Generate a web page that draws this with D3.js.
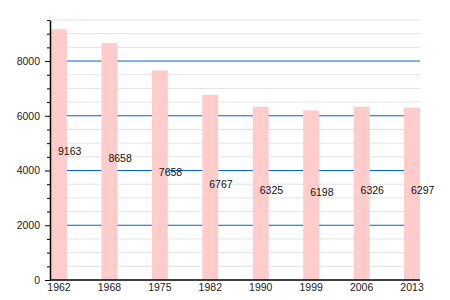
<!DOCTYPE html>
<html>
<head>
<meta charset="utf-8">
<script src="https://cdn.jsdelivr.net/npm/d3@7"></script>
<style>
  body { margin: 0; background: #fff; }
  text { font-family: "Liberation Sans", Arial, sans-serif; }
</style>
</head>
<body>
<div id="chart"></div>
<script>
// data
const years = ["1962", "1968", "1975", "1982", "1990", "1999", "2006", "2013"];
const population = [9163, 8658, 7658, 6767, 6325, 6198, 6326, 6297];
const majorTicks = [0, 2000, 4000, 6000, 8000];

const width = 450, height = 300;
const margin = {top: 20, right: 30, bottom: 20, left: 50};
const fontSize = "10.5px";

const svg = d3.select("#chart")
  .append("svg")
  .attr("width", width)
  .attr("height", height);

const x = d3.scaleBand()
  .domain(years)
  .range([margin.left + 1, width - margin.right])
  .paddingInner(0.684)
  .paddingOuter(0);

const y = d3.scaleLinear()
  .domain([0, 9500])
  .range([height - margin.bottom, margin.top]);

// minor grid every 500
const minor = d3.range(500, 9501, 500).filter(v => v % 2000 !== 0);
svg.append("g")
  .selectAll("line")
  .data(minor)
  .enter()
  .append("line")
  .attr("x1", margin.left)
  .attr("x2", width - margin.right)
  .attr("y1", d => y(d))
  .attr("y2", d => y(d))
  .attr("stroke", "#e3e3e3")
  .attr("stroke-width", 1);

// major grid every 2000
svg.append("g")
  .selectAll("line")
  .data(majorTicks.filter(d => d > 0))
  .enter()
  .append("line")
  .attr("x1", margin.left)
  .attr("x2", width - margin.right)
  .attr("y1", d => y(d))
  .attr("y2", d => y(d))
  .attr("stroke", "#0066cc")
  .attr("stroke-width", 1);

// bars
svg.append("g")
  .selectAll("rect")
  .data(population)
  .enter()
  .append("rect")
  .attr("x", (d, i) => x(years[i]))
  .attr("y", d => y(d))
  .attr("width", x.bandwidth())
  .attr("height", d => y(0) - y(d))
  .attr("fill", "#ffcccc");

// value labels halfway up the bar
svg.append("g")
  .selectAll("text")
  .data(population)
  .enter()
  .append("text")
  .attr("x", (d, i) => x(years[i]) + x.bandwidth() / 2 - 1)
  .attr("y", d => (y(d) + y(0)) / 2 + 0.5)
  .attr("font-size", fontSize)
  .attr("fill", "#111")
  .text(d => d);

// y axis, minor ticks
svg.append("g")
  .attr("transform", `translate(${margin.left},0)`)
  .call(d3.axisLeft(y).tickValues(minor).tickSize(3).tickFormat(""))
  .call(g => g.select(".domain").remove());

// y axis, major ticks
svg.append("g")
  .attr("transform", `translate(${margin.left},0)`)
  .call(d3.axisLeft(y).tickValues(majorTicks).tickSize(5).tickPadding(5).tickSizeOuter(0).tickFormat(d3.format("d")))
  .call(g => g.selectAll("text").attr("font-size", fontSize).attr("fill", "#222").style("font-family", "Liberation Sans, Arial, sans-serif"))
  .call(g => g.select(".domain").attr("stroke-width", 1.5));

// x axis
svg.append("g")
  .attr("transform", `translate(0,${height - margin.bottom})`)
  .call(d3.axisBottom(x).tickSize(0).tickPadding(4))
  .call(g => g.select(".domain").attr("d", `M${margin.left},0H${width - margin.right}`).attr("stroke-width", 1.5))
  .call(g => g.selectAll("text").attr("font-size", fontSize).attr("fill", "#222").style("font-family", "Liberation Sans, Arial, sans-serif"));
</script>
</body>
</html>
